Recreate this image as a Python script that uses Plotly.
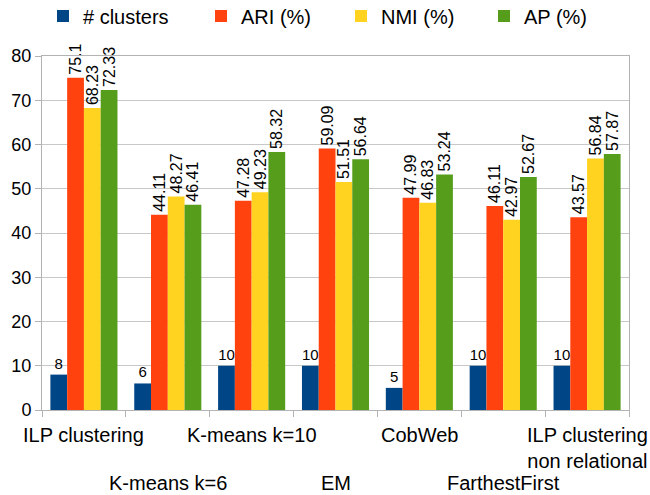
import plotly.graph_objects as go

categories = ["ILP clustering", "K-means k=6", "K-means k=10", "EM", "CobWeb",
              "FarthestFirst", "ILP clustering non relational"]
tick_labels = ["ILP clustering", "K-means k=6", "K-means k=10", "EM", "CobWeb",
               "FarthestFirst", "ILP clustering<br>non relational"]
n_clusters = [8, 6, 10, 10, 5, 10, 10]
ari = [75.1, 44.11, 47.28, 59.09, 47.99, 46.11, 43.57]
nmi = [68.23, 48.27, 49.23, 51.51, 46.83, 42.97, 56.84]
ap = [72.33, 46.41, 58.32, 56.64, 53.24, 52.67, 57.87]

series_names = ["# clusters", "ARI (%)", "NMI (%)", "AP (%)"]
series_values = [n_clusters, ari, nmi, ap]
colors = ["#004586", "#ff420e", "#ffd320", "#579d1c"]
legend_ids = ["legend", "legend2", "legend3", "legend4"]
legend_x = [43, 201, 341, 484]

FONT = "Liberation Sans, Arial, sans-serif"

fig = go.Figure()
for i, (name, vals) in enumerate(zip(series_names, series_values)):
    fig.add_trace(go.Bar(
        x=categories, y=vals, name=name,
        marker=dict(color=colors[i], line=dict(width=0)),
        text=[f"{v:g}" for v in vals],
        textposition="outside",
        textangle=0 if i == 0 else -90,
        constraintext="none",
        cliponaxis=False,
        textfont=dict(family=FONT, size=15 if i == 0 else 16, color="#000000"),
        legend=legend_ids[i],
        showlegend=True,
    ))

layout_legends = {}
for i, lid in enumerate(legend_ids):
    layout_legends[lid] = dict(
        x=legend_x[i] / 650, y=1 - 16 / 495, xref="container", yref="container",
        xanchor="left", yanchor="middle", orientation="h",
        font=dict(family=FONT, size=20, color="#000000"),
        bgcolor="rgba(0,0,0,0)", borderwidth=0,
    )

annotations = []
for i, (cat, lab) in enumerate(zip(categories, tick_labels)):
    annotations.append(dict(
        x=cat, y=0, xref="x", yref="paper", text=lab, showarrow=False,
        xanchor="center", yanchor="top", yshift=-12 if i % 2 == 0 else -60,
        font=dict(family=FONT, size=20, color="#000000"),
    ))

fig.update_layout(
    width=650, height=495,
    margin=dict(l=42, r=21, t=56, b=85, autoexpand=False),
    paper_bgcolor="white", plot_bgcolor="white",
    showlegend=True,
    barmode="group", bargap=0.2, bargroupgap=0,
    font=dict(family=FONT, color="#000000"),
    annotations=annotations,
    xaxis=dict(
        type="category", showticklabels=False, tickson="boundaries",
        range=[-0.5, len(categories) - 0.5], autorange=False,
        ticks="outside", ticklen=6, tickcolor="#b3b3b3",
        showline=True, linecolor="#b3b3b3", linewidth=1, showgrid=False,
        mirror=True,
    ),
    yaxis=dict(
        range=[0, 80], dtick=10, tick0=0, autorange=False,
        ticks="outside", ticklen=6, tickcolor="#b3b3b3",
        showline=True, linecolor="#b3b3b3", linewidth=1, mirror=True,
        showgrid=True, gridcolor="#c8c8c8", gridwidth=1, zeroline=False,
        tickfont=dict(family=FONT, size=18, color="#000000"),
    ),
    **layout_legends,
)

fig.write_html(
    "out.html",
    config={"displayModeBar": False},
    post_script="document.body.style.margin='0';document.body.style.padding='0';",
)
